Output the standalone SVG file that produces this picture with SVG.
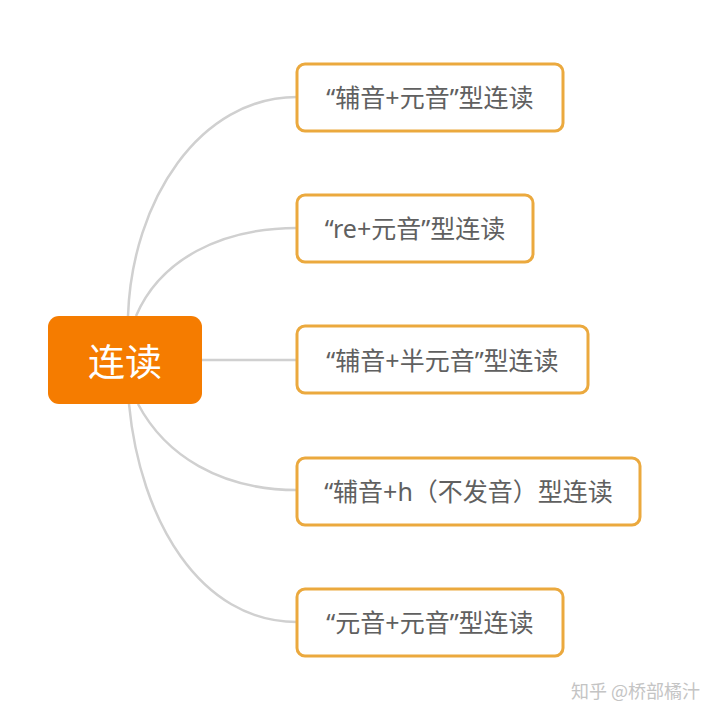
<svg xmlns="http://www.w3.org/2000/svg" width="720" height="720" viewBox="0 0 720 720">
<style>
.box{fill:#fff;stroke:#EBA93E;stroke-width:3}
.lbl{font-family:"Noto Sans","Noto Sans CJK SC",sans-serif;font-size:25px;fill:#606060;text-anchor:middle;dominant-baseline:central}
.conn{fill:none;stroke:#d0d0d0;stroke-width:2.5}
</style>
<rect width="720" height="720" fill="#fff"/>
<g id="connectors">
<path class="conn" d="M128,316 C132,200 200,97 297,97"/>
<path class="conn" d="M136,316 C160,260 220,228 297,228"/>
<path class="conn" d="M202,360 L297,360"/>
<path class="conn" d="M138,404 C165,455 220,490 297,490"/>
<path class="conn" d="M129,404 C140,520 200,622 297,622"/>
</g>
<g id="root">
<rect x="48" y="316" width="154" height="88" rx="11" fill="#F57C00"/>
<text x="125" y="360" font-family="'Noto Sans CJK SC',sans-serif" font-size="37" fill="#fff" text-anchor="middle" dominant-baseline="central">连读</text>
</g>
<g id="n1">
<rect class="box" x="297" y="64" width="266" height="67" rx="8"/>
<text class="lbl" x="430" y="97">“辅音+元音”型连读</text>
</g>
<g id="n2">
<rect class="box" x="297" y="195" width="236" height="67" rx="8"/>
<text class="lbl" x="415" y="228">“re+元音”型连读</text>
</g>
<g id="n3">
<rect class="box" x="297" y="326" width="291" height="67" rx="8"/>
<text class="lbl" x="442.5" y="360">“辅音+半元音”型连读</text>
</g>
<g id="n4">
<rect class="box" x="297" y="458" width="343" height="67" rx="8"/>
<text class="lbl" x="468.5" y="491">“辅音+h（不发音）型连读</text>
</g>
<g id="n5">
<rect class="box" x="297" y="589" width="266" height="67" rx="8"/>
<text class="lbl" x="430" y="622">“元音+元音”型连读</text>
</g>
<text x="700" y="690" font-family="'Noto Sans CJK SC',sans-serif" font-size="18" fill="#c4c4c4" text-anchor="end" dominant-baseline="central">知乎 @桥部橘汁</text>
</svg>
